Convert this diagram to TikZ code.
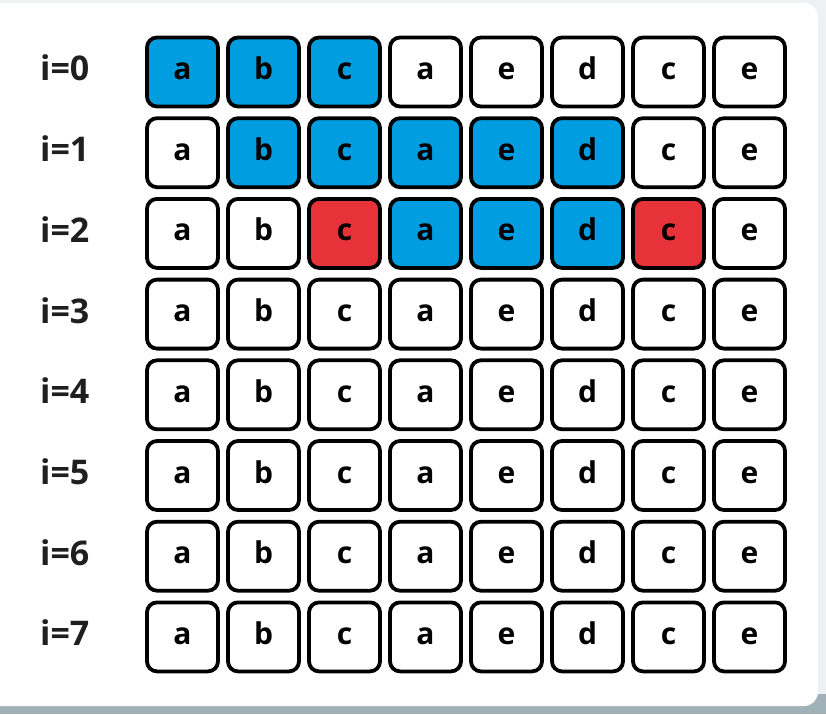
\documentclass[tikz,border=0pt]{standalone}
\usepackage{fontspec}
\setmainfont{Open Sans}
\definecolor{cellblue}{RGB}{0,158,224}
\definecolor{cellred}{RGB}{232,50,58}
\definecolor{bggrey}{RGB}{238,241,243}
\definecolor{shadowgrey}{RGB}{160,178,184}
\begin{document}
\begin{tikzpicture}[x=1pt,y=-1pt,
  cell/.style={draw=black,line width=3.8pt,rounded corners=10pt,minimum width=71pt,minimum height=69pt,inner sep=0pt,text height=15pt,text depth=0pt,font=\fontsize{30}{32}\selectfont\bfseries,fill=white},
  bluecell/.style={cell,fill=cellblue},
  redcell/.style={cell,fill=cellred},
  rowlabel/.style={font=\fontsize{34}{36}\selectfont\bfseries,text=black!88,anchor=west,inner sep=0pt,text height=18pt,text depth=0pt}]
\useasboundingbox (0,0) rectangle (826,714);
\fill[bggrey] (0,0) rectangle (826,714);
\fill[shadowgrey] (0,694) rectangle (826,714);
\fill[white,rounded corners=14pt] (-20,3) rectangle (818,706);
\foreach \r in {0,...,7}{
  \node[rowlabel] (lab\r) at (40,{72+\r*80.7}) {i=\r};
}
\foreach \r in {0,...,7}{
  \foreach \c/\t in {0/a,1/b,2/c,3/a,4/e,5/d,6/c,7/e}{
    \def\st{cell}
    \ifnum\r=0 \ifnum\c<3 \def\st{bluecell}\fi\fi
    \ifnum\r=1 \ifnum\c>0 \ifnum\c<6 \def\st{bluecell}\fi\fi\fi
    \ifnum\r=2
      \ifnum\c>2 \ifnum\c<6 \def\st{bluecell}\fi\fi
      \ifnum\c=2 \def\st{redcell}\fi
      \ifnum\c=6 \def\st{redcell}\fi
    \fi
    \node[\st] (c\r\c) at ({182.5+\c*81},{72+\r*80.7}) {\t};
  }
}
\end{tikzpicture}
\end{document}
